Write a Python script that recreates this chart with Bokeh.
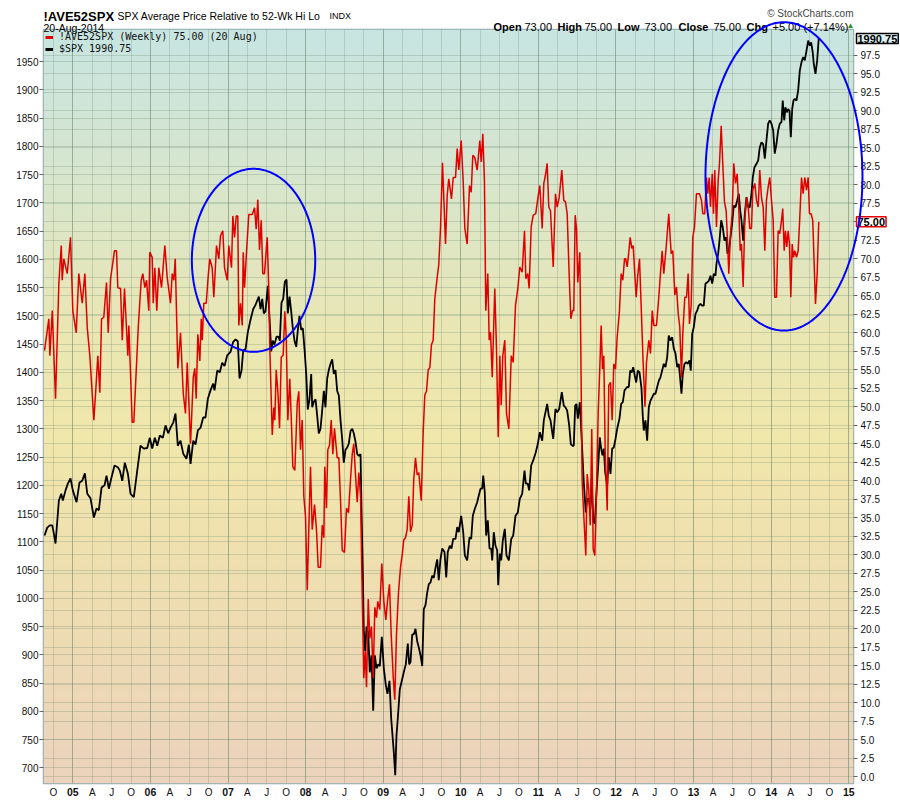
import numpy as np
from bokeh.plotting import figure
from bokeh.models import (Range1d, LinearAxis, FixedTicker, Grid, Label, Legend, LegendItem,
                          PolyAnnotation, CustomJSTickFormatter, NumeralTickFormatter, GridBox, Column)
from bokeh.embed import file_html
from bokeh.resources import INLINE

# ---------------- data (dates as decimal years) ----------------
ind_dates = [
    2004.635, 2004.691, 2004.704, 2004.735, 2004.777, 2004.820, 2004.851, 2004.863, 2004.884, 2004.928, 2004.970,
    2005.000, 2005.044, 2005.077, 2005.121, 2005.155, 2005.186, 2005.219, 2005.271, 2005.293, 2005.322, 2005.348,
    2005.370, 2005.399, 2005.434, 2005.456, 2005.486, 2005.537, 2005.563, 2005.580, 2005.615, 2005.637, 2005.666,
    2005.709, 2005.722, 2005.765, 2005.786, 2005.843, 2005.881, 2005.902, 2005.928, 2005.950, 2005.979, 2005.992,
    2006.023, 2006.036, 2006.057, 2006.082, 2006.108, 2006.143, 2006.186, 2006.216, 2006.259, 2006.281, 2006.302,
    2006.320, 2006.353, 2006.388, 2006.423, 2006.452, 2006.474, 2006.517, 2006.552, 2006.572, 2006.590, 2006.611,
    2006.637, 2006.655, 2006.668, 2006.688, 2006.719, 2006.745, 2006.765, 2006.796, 2006.817, 2006.852, 2006.881,
    2006.903, 2006.933, 2006.955, 2006.990,
    2007.010, 2007.045, 2007.062, 2007.084, 2007.106, 2007.126, 2007.139, 2007.161, 2007.183, 2007.196, 2007.213,
    2007.238, 2007.268, 2007.312, 2007.342, 2007.363, 2007.384, 2007.406, 2007.428, 2007.448, 2007.470, 2007.505,
    2007.526, 2007.539, 2007.570, 2007.590, 2007.603, 2007.621, 2007.642, 2007.664, 2007.686, 2007.711, 2007.732,
    2007.750, 2007.771, 2007.796, 2007.818, 2007.835, 2007.861, 2007.892, 2007.912, 2007.934, 2007.956, 2007.977,
    2007.999,
    2008.021, 2008.041, 2008.063, 2008.085, 2008.115, 2008.140, 2008.162, 2008.192, 2008.214, 2008.235, 2008.247,
    2008.269, 2008.286, 2008.308, 2008.330, 2008.351, 2008.372, 2008.407, 2008.428, 2008.450, 2008.472, 2008.501,
    2008.527, 2008.553, 2008.579, 2008.601, 2008.621, 2008.643, 2008.665, 2008.686, 2008.708, 2008.729, 2008.750,
    2008.768, 2008.785, 2008.807, 2008.827, 2008.849, 2008.871, 2008.892, 2008.914, 2008.930, 2008.956, 2008.982,
    2009.008, 2009.034, 2009.055, 2009.081, 2009.103, 2009.129, 2009.149, 2009.171, 2009.197, 2009.223, 2009.245,
    2009.265, 2009.287, 2009.309, 2009.330, 2009.352, 2009.374, 2009.394, 2009.416, 2009.438, 2009.459, 2009.490,
    2009.515, 2009.536, 2009.558, 2009.580, 2009.601, 2009.622, 2009.644, 2009.665, 2009.696, 2009.716, 2009.738,
    2009.764, 2009.803, 2009.825, 2009.845, 2009.880, 2009.902, 2009.932, 2009.954, 2009.974,
    2010.005, 2010.031, 2010.052, 2010.082, 2010.112, 2010.134, 2010.155, 2010.180, 2010.211, 2010.245, 2010.263,
    2010.284, 2010.305, 2010.322, 2010.348, 2010.366, 2010.383, 2010.405, 2010.438, 2010.460, 2010.482, 2010.503,
    2010.521, 2010.541, 2010.567, 2010.589, 2010.619, 2010.650, 2010.675, 2010.705, 2010.735, 2010.760, 2010.791,
    2010.821, 2010.838, 2010.863, 2010.881, 2010.907, 2010.933, 2010.966, 2010.992,
    2011.018, 2011.049, 2011.070, 2011.091, 2011.113, 2011.134, 2011.156, 2011.191, 2011.220, 2011.242, 2011.268,
    2011.302, 2011.327, 2011.349, 2011.371, 2011.397, 2011.418, 2011.439, 2011.456, 2011.474, 2011.491, 2011.508,
    2011.534, 2011.564, 2011.585, 2011.611, 2011.629, 2011.650, 2011.668, 2011.688, 2011.706, 2011.727, 2011.749,
    2011.771, 2011.791, 2011.809, 2011.826, 2011.843, 2011.861, 2011.887, 2011.907, 2011.929, 2011.951, 2011.972,
    2011.994,
    2012.015, 2012.045, 2012.067, 2012.088, 2012.110, 2012.126, 2012.144, 2012.165, 2012.183, 2012.204, 2012.222,
    2012.242, 2012.260, 2012.281, 2012.303, 2012.329, 2012.348, 2012.374, 2012.393, 2012.423, 2012.445, 2012.467,
    2012.487, 2012.522, 2012.552, 2012.573, 2012.595, 2012.616, 2012.647, 2012.680, 2012.711, 2012.732, 2012.758,
    2012.780, 2012.802, 2012.822, 2012.844, 2012.861, 2012.887, 2012.909, 2012.930, 2012.947, 2012.969, 2012.990,
    2013.012, 2013.037, 2013.076, 2013.102, 2013.119, 2013.144, 2013.166, 2013.183, 2013.201, 2013.218, 2013.240,
    2013.256, 2013.273, 2013.295, 2013.317, 2013.334, 2013.356, 2013.376, 2013.398, 2013.420, 2013.437, 2013.454,
    2013.476, 2013.497, 2013.518, 2013.540, 2013.562, 2013.582, 2013.601, 2013.617, 2013.639, 2013.660, 2013.682,
    2013.704, 2013.724, 2013.746, 2013.763, 2013.789, 2013.811, 2013.833, 2013.853, 2013.875, 2013.897, 2013.918,
    2013.939, 2013.961, 2013.982,
    2014.004, 2014.026, 2014.046, 2014.068, 2014.090, 2014.111, 2014.133, 2014.149, 2014.168, 2014.184, 2014.201,
    2014.219, 2014.236, 2014.253, 2014.271, 2014.287, 2014.304, 2014.326, 2014.348, 2014.369, 2014.391, 2014.412,
    2014.433, 2014.455, 2014.477, 2014.494, 2014.515, 2014.536, 2014.558, 2014.571, 2014.593, 2014.613,
]
ind_values = [
    57.6, 61.9, 56.9, 63.0, 51.1, 66.7, 71.8, 67.1, 70.0, 68.0, 72.9,
    63.0, 60.0, 68.0, 64.0, 68.0, 60.7, 56.9, 48.2, 51.8, 56.9, 51.9, 61.9, 62.1, 66.8, 60.0, 67.3, 71.1, 71.1,
    66.1, 66.0, 59.0, 66.0, 56.9, 61.0, 47.9, 47.9, 60.7, 67.1, 68.0, 66.1, 67.1, 63.0, 70.9,
    70.2, 64.0, 68.8, 63.0, 68.8, 66.1, 71.8, 67.5, 64.0, 68.0, 67.1, 70.0, 55.2, 60.0, 51.8, 49.1, 56.0, 45.0,
    54.0, 55.2, 51.1, 59.8, 56.2, 61.9, 59.0, 64.0, 64.0, 67.7, 70.0, 68.8, 64.8, 71.8, 70.0, 73.1, 73.8, 68.8, 67.1,
    71.8, 68.8, 75.8, 72.9, 75.8, 75.8, 61.0, 64.0, 61.0, 70.9, 66.1, 70.9, 76.0, 76.0, 76.9, 74.0, 78.0, 71.2,
    75.2, 68.0, 68.0, 72.9, 65.8, 57.8, 46.2, 49.9, 48.2, 55.0, 52.1, 47.1, 56.7, 57.0, 62.9, 59.5, 48.2, 53.8,
    47.6, 41.9, 41.4, 50.5, 52.1, 44.2, 48.2, 37.9, 35.1,
    25.2, 33.4, 41.9, 33.4, 36.8, 33.4, 28.3, 28.3, 34.0, 32.3, 41.9, 36.3, 44.2, 44.8, 48.2, 43.6, 47.1, 43.1,
    43.1, 37.3, 30.6, 30.3, 36.3, 35.7, 40.2, 43.6, 45.0, 40.8, 37.1, 41.1, 37.9, 24.9, 13.3, 16.9, 12.1, 24.0,
    18.7, 20.3, 13.3, 22.9, 21.5, 23.7, 22.6, 28.8,
    23.7, 21.2, 23.7, 26.0, 19.2, 13.5, 10.4, 19.2, 24.9, 28.3, 30.0, 32.0, 32.3, 33.4, 37.9, 33.1, 34.0, 40.2,
    43.1, 40.8, 41.1, 37.3, 46.5, 51.6, 52.1, 55.0, 55.3, 58.4, 59.0, 64.6, 67.5, 69.2, 74.0, 83.0, 72.0, 78.6,
    80.8, 78.1, 81.0, 81.0, 84.9, 82.0,
    86.0, 80.4, 74.1, 72.0, 79.9, 79.0, 84.0, 83.7, 82.0, 86.0, 83.1, 86.9, 80.4, 63.0, 68.0, 59.0, 60.1, 54.0,
    66.0, 57.8, 45.9, 56.9, 50.2, 56.9, 59.0, 49.1, 47.0, 56.9, 56.0, 63.7, 66.0, 68.9, 68.2, 73.8, 67.3, 68.0,
    66.0, 74.3, 75.9, 76.1, 78.1,
    79.9, 74.1, 80.2, 81.3, 82.9, 77.0, 76.5, 68.9, 78.8, 77.0, 78.3, 82.0, 77.9, 77.7, 76.1, 67.8, 61.9, 63.0,
    63.0, 75.9, 74.1, 66.8, 70.9, 40.0, 35.3, 29.9, 40.9, 38.5, 34.0, 47.0, 30.8, 29.9, 38.5, 49.3, 55.1, 61.0,
    55.1, 56.9, 43.9, 36.0, 52.9, 53.3, 48.2, 55.8, 55.1,
    59.4, 63.0, 68.0, 67.1, 70.0, 70.0, 68.9, 70.9, 72.9, 71.4, 71.8, 68.0, 64.8, 67.8, 70.0, 62.3, 56.5, 50.0,
    56.0, 59.0, 57.2, 63.0, 61.0, 61.0, 64.8, 68.0, 71.1, 68.0, 71.6, 76.1, 70.7, 71.1, 65.1, 66.2, 62.6, 60.8,
    54.0, 59.9, 64.8, 64.8, 68.0, 61.2, 63.7, 72.9,
    74.3, 78.8, 78.8, 77.9, 76.1, 76.1, 81.0, 78.8, 81.0, 77.0, 81.5, 76.1, 82.0, 74.3, 80.6, 82.9, 88.0, 82.9,
    77.7, 76.5, 72.5, 68.0, 73.4, 76.1, 82.9, 80.2, 81.5, 77.0, 71.1, 72.0, 66.2, 75.2, 78.3, 77.0, 74.1, 74.1,
    79.3, 80.2, 77.9, 77.0, 82.0, 78.3, 77.0, 71.1, 77.9, 79.7, 81.0,
    77.9, 75.2, 64.8, 64.8, 73.8, 73.4, 75.2, 76.8, 71.1, 73.8, 71.6, 73.8, 72.0, 64.8, 72.0, 70.2, 71.1, 70.2,
    71.1, 75.6, 81.0, 78.8, 81.0, 79.3, 81.0, 76.1, 76.1, 75.2, 68.0, 63.9, 68.0, 75.0,
]

spx_dates = [
    2004.635, 2004.670, 2004.704, 2004.735, 2004.755, 2004.777, 2004.820, 2004.851, 2004.871, 2004.906, 2004.936,
    2004.970,
    2005.000, 2005.048, 2005.086, 2005.121, 2005.155, 2005.186, 2005.228, 2005.271, 2005.305, 2005.335, 2005.370,
    2005.409, 2005.434, 2005.464, 2005.495, 2005.537, 2005.580, 2005.606, 2005.637, 2005.670, 2005.709, 2005.744,
    2005.786, 2005.830, 2005.872, 2005.915, 2005.959, 2005.992,
    2006.023, 2006.057, 2006.088, 2006.121, 2006.160, 2006.195, 2006.229, 2006.259, 2006.294, 2006.323, 2006.353,
    2006.388, 2006.423, 2006.465, 2006.495, 2006.517, 2006.552, 2006.581, 2006.611, 2006.646, 2006.680, 2006.710,
    2006.740, 2006.774, 2006.809, 2006.826, 2006.861, 2006.894, 2006.925, 2006.955, 2006.990,
    2007.032, 2007.067, 2007.097, 2007.126, 2007.148, 2007.174, 2007.196, 2007.226, 2007.255, 2007.290, 2007.325,
    2007.354, 2007.376, 2007.397, 2007.419, 2007.441, 2007.461, 2007.483, 2007.513, 2007.539, 2007.557, 2007.577,
    2007.599, 2007.625, 2007.647, 2007.668, 2007.689, 2007.711, 2007.732, 2007.754, 2007.771, 2007.793, 2007.814,
    2007.835, 2007.857, 2007.879, 2007.900, 2007.921, 2007.943, 2007.964, 2007.986,
    2008.008, 2008.028, 2008.050, 2008.072, 2008.085, 2008.106, 2008.128, 2008.150, 2008.170, 2008.192, 2008.214,
    2008.235, 2008.256, 2008.278, 2008.299, 2008.321, 2008.343, 2008.363, 2008.385, 2008.407, 2008.428, 2008.450,
    2008.472, 2008.492, 2008.514, 2008.536, 2008.557, 2008.579, 2008.601, 2008.621, 2008.643, 2008.665, 2008.686,
    2008.708, 2008.720, 2008.737, 2008.750, 2008.768, 2008.785, 2008.807, 2008.827, 2008.849, 2008.871, 2008.892,
    2008.914, 2008.936, 2008.956, 2008.982,
    2009.008, 2009.034, 2009.055, 2009.081, 2009.103, 2009.120, 2009.137, 2009.155, 2009.171, 2009.188, 2009.214,
    2009.240, 2009.265, 2009.291, 2009.317, 2009.335, 2009.352, 2009.374, 2009.394, 2009.416, 2009.438, 2009.459,
    2009.481, 2009.503, 2009.523, 2009.545, 2009.567, 2009.588, 2009.610, 2009.631, 2009.652, 2009.674, 2009.696,
    2009.716, 2009.738, 2009.760, 2009.790, 2009.812, 2009.832, 2009.858, 2009.880, 2009.902, 2009.932, 2009.954,
    2009.974,
    2010.005, 2010.031, 2010.052, 2010.082, 2010.112, 2010.134, 2010.155, 2010.180, 2010.211, 2010.232, 2010.254,
    2010.276, 2010.289, 2010.309, 2010.327, 2010.348, 2010.370, 2010.392, 2010.405, 2010.425, 2010.447, 2010.469,
    2010.482, 2010.503, 2010.521, 2010.541, 2010.567, 2010.589, 2010.619, 2010.650, 2010.675, 2010.705, 2010.735,
    2010.760, 2010.791, 2010.821, 2010.838, 2010.863, 2010.881, 2010.907, 2010.933, 2010.966, 2010.992,
    2011.018, 2011.049, 2011.070, 2011.091, 2011.113, 2011.134, 2011.156, 2011.191, 2011.220, 2011.242, 2011.268,
    2011.302, 2011.327, 2011.349, 2011.371, 2011.397, 2011.418, 2011.439, 2011.456, 2011.474, 2011.491, 2011.508,
    2011.534, 2011.564, 2011.585, 2011.611, 2011.629, 2011.650, 2011.668, 2011.688, 2011.706, 2011.727, 2011.749,
    2011.771, 2011.791, 2011.809, 2011.826, 2011.843, 2011.861, 2011.887, 2011.907, 2011.929, 2011.951, 2011.972,
    2011.994,
    2012.015, 2012.045, 2012.067, 2012.088, 2012.110, 2012.126, 2012.144, 2012.165, 2012.183, 2012.204, 2012.222,
    2012.242, 2012.260, 2012.281, 2012.303, 2012.329, 2012.345, 2012.358, 2012.380, 2012.402, 2012.423, 2012.445,
    2012.467, 2012.487, 2012.509, 2012.531, 2012.552, 2012.573, 2012.595, 2012.616, 2012.638, 2012.660, 2012.680,
    2012.702, 2012.724, 2012.745, 2012.767, 2012.789, 2012.809, 2012.822, 2012.844, 2012.861, 2012.883, 2012.905,
    2012.925, 2012.947, 2012.964, 2012.982,
    2013.003, 2013.024, 2013.046, 2013.067, 2013.089, 2013.111, 2013.131, 2013.153, 2013.175, 2013.196, 2013.218,
    2013.240, 2013.260, 2013.282, 2013.295, 2013.317, 2013.334, 2013.356, 2013.376, 2013.398, 2013.420, 2013.437,
    2013.454, 2013.476, 2013.497, 2013.518, 2013.540, 2013.562, 2013.582, 2013.601, 2013.617, 2013.639, 2013.660,
    2013.682, 2013.704, 2013.724, 2013.746, 2013.763, 2013.785, 2013.811, 2013.833, 2013.853, 2013.875, 2013.897,
    2013.918, 2013.939, 2013.961, 2013.982,
    2014.004, 2014.026, 2014.046, 2014.068, 2014.090, 2014.111, 2014.133, 2014.149, 2014.168, 2014.184, 2014.201,
    2014.219, 2014.236, 2014.253, 2014.271, 2014.287, 2014.304, 2014.326, 2014.348, 2014.369, 2014.391, 2014.412,
    2014.433, 2014.455, 2014.477, 2014.497, 2014.515, 2014.536, 2014.549, 2014.571, 2014.593, 2014.613,
]
spx_values = [
    1111, 1125, 1129, 1129, 1115, 1097, 1173, 1185, 1173, 1191, 1203, 1212,
    1191, 1170, 1205, 1208, 1221, 1185, 1177, 1143, 1159, 1156, 1196, 1200, 1217, 1194, 1212, 1235, 1232, 1226,
    1208, 1240, 1221, 1185, 1179, 1226, 1270, 1265, 1266, 1284,
    1265, 1284, 1270, 1288, 1284, 1306, 1292, 1302, 1311, 1327, 1270, 1279, 1256, 1247, 1272, 1238, 1279, 1272,
    1297, 1302, 1320, 1320, 1353, 1368, 1380, 1368, 1403, 1400, 1417, 1411, 1430,
    1436, 1454, 1458, 1455, 1389, 1403, 1439, 1441, 1471, 1493, 1512, 1519, 1527, 1534, 1512, 1530, 1504, 1508,
    1553, 1486, 1437, 1456, 1449, 1463, 1463, 1456, 1523, 1530, 1560, 1564, 1504, 1534, 1508, 1478, 1456, 1445,
    1475, 1500, 1475, 1478, 1441,
    1397, 1334, 1352, 1397, 1338, 1348, 1352, 1322, 1292, 1300, 1333, 1367, 1338, 1389, 1404, 1415, 1423, 1397,
    1404, 1367, 1359, 1315, 1281, 1240, 1263, 1267, 1274, 1296, 1300, 1292, 1277, 1255, 1252, 1255, 1159, 1047,
    943, 906, 950, 939, 869, 899, 801, 899, 876, 883, 880, 932,
    876, 846, 831, 854, 787, 757, 727, 687, 757, 787, 839, 854, 869, 883, 920, 883, 887, 936, 936, 946, 924, 913,
    899, 880, 981, 988, 1010, 1025, 1028, 1040, 1036, 1054, 1069, 1032, 1069, 1088, 1082, 1037, 1082, 1093, 1088,
    1105, 1105, 1126, 1117,
    1146, 1117, 1076, 1067, 1108, 1105, 1146, 1158, 1170, 1182, 1194, 1194, 1217, 1188, 1111, 1138, 1088, 1088,
    1067, 1117, 1093, 1085, 1023, 1079, 1067, 1102, 1123, 1076, 1067, 1105, 1111, 1146, 1152, 1176, 1185, 1226,
    1203, 1203, 1191, 1235, 1244, 1258, 1273,
    1294, 1279, 1315, 1329, 1344, 1323, 1315, 1282, 1335, 1329, 1335, 1365, 1341, 1338, 1332, 1306, 1273, 1270,
    1270, 1341, 1344, 1318, 1347, 1265, 1205, 1152, 1176, 1176, 1158, 1211, 1138, 1132, 1188, 1235, 1285, 1265,
    1253, 1265, 1223, 1200, 1250, 1220, 1265, 1267, 1282,
    1300, 1318, 1344, 1347, 1368, 1371, 1374, 1374, 1403, 1400, 1409, 1394, 1382, 1403, 1400, 1371, 1323, 1297,
    1315, 1279, 1338, 1350, 1356, 1362, 1362, 1374, 1385, 1391, 1403, 1415, 1409, 1427, 1465, 1456, 1462, 1442,
    1433, 1409, 1415, 1397, 1362, 1397, 1415, 1418, 1415, 1421, 1403, 1468,
    1480, 1503, 1509, 1518, 1521, 1518, 1518, 1557, 1559, 1562, 1571, 1557, 1574, 1571, 1592, 1610, 1633, 1669,
    1657, 1633, 1639, 1610, 1616, 1639, 1663, 1695, 1692, 1704, 1716, 1686, 1669, 1633, 1680, 1710, 1692, 1692,
    1716, 1745, 1763, 1769, 1775, 1798, 1807, 1804, 1778, 1810, 1840, 1846,
    1840, 1828, 1787, 1804, 1828, 1840, 1843, 1881, 1846, 1869, 1860, 1866, 1863, 1816, 1866, 1881, 1884, 1881,
    1899, 1934, 1949, 1958, 1952, 1969, 1987, 1978, 1984, 1966, 1946, 1928, 1952, 1990.75,
]

spx_ticks = [700, 750, 800, 850, 900, 950, 1000, 1050, 1100, 1150, 1200, 1250, 1300, 1350, 1400,
             1450, 1500, 1550, 1600, 1650, 1700, 1750, 1800, 1850, 1900, 1950]
ind_ticks = [i * 2.5 for i in range(40)]
quarter_ticks = [2004.75] + [y + q for y in range(2005, 2015) for q in (0.0, 0.25, 0.5, 0.75)] + [2015.0]
quarter_labels = [{0.0: "", 0.25: "A", 0.5: "J", 0.75: "O"}[round(t % 1, 2)] for t in quarter_ticks]
year_ticks = [float(y) for y in range(2005, 2016)]
year_labels = ["05", "06", "07", "08", "09", "10", "11", "12", "13", "14", "15"]

symbol = "!AVE52SPX"
description = "SPX Average Price Relative to 52-Wk Hi Lo"
exchange = "INDX"
as_of = "20-Aug-2014"
ohlc_keys = ["Open", "High", "Low", "Close", "Chg"]
ohlc_vals = ["73.00", "75.00", "73.00", "75.00", "+5.00 (+7.14%)"]

RED = "#e00000"
FONT = "Liberation Sans"

# plot area geometry (canvas 900 x 800)
X0, X1 = 2004.622, 2015.061
Y0, Y1 = 672.2, 2006.7
I0, I1 = -0.92, 101.0
BL, BR, BT, BB = 43, 47, 29, 17
FW, FH = 810, 754
W, H = BL + FW + BR, BT + FH + BB

p = figure(frame_width=FW, frame_height=FH, x_range=Range1d(X0, X1), y_range=Range1d(Y0, Y1),
           output_backend="svg", toolbar_location=None,
           min_border_left=BL, min_border_right=BR, min_border_top=BT, min_border_bottom=BB,
           background_fill_color="#efe6b0", border_fill_color="white",
           outline_line_color="#8fa9ad", outline_line_width=1.5)
p.extra_y_ranges = {"ind": Range1d(I0, I1)}

# gradient background of the plot area
n = 256
fr = np.linspace(0, 1, n)
stops = [0.0, 0.2, 0.45, 0.6, 0.8, 1.0]
rr = [236, 238, 241, 234, 216, 200]
gg = [211, 220, 231, 231, 230, 229]
bb = [189, 179, 171, 180, 205, 226]
img = np.empty((n, 1), dtype=np.uint32)
view = img.view(dtype=np.uint8).reshape((n, 1, 4))
view[:, 0, 0] = np.interp(fr, stops, rr).astype(np.uint8)
view[:, 0, 1] = np.interp(fr, stops, gg).astype(np.uint8)
view[:, 0, 2] = np.interp(fr, stops, bb).astype(np.uint8)
view[:, 0, 3] = 255
p.image_rgba(image=[img], x=X0, y=Y0, dw=X1 - X0, dh=Y1 - Y0, level="image")

# grids
GRID = "#6f8a70"
p.xgrid.ticker = FixedTicker(ticks=quarter_ticks)
p.xgrid.grid_line_color = GRID
p.xgrid.grid_line_alpha = 0.28
p.add_layout(Grid(dimension=0, ticker=FixedTicker(ticks=year_ticks), grid_line_color=GRID, grid_line_alpha=0.45))
p.ygrid.ticker = FixedTicker(ticks=spx_ticks)
p.ygrid.grid_line_color = GRID
p.ygrid.grid_line_alpha = 0.28
p.add_layout(Grid(dimension=1, ticker=FixedTicker(ticks=ind_ticks), y_range_name="ind",
                  grid_line_color=GRID, grid_line_alpha=0.28))

# axes
lax = p.yaxis[0]
lax.ticker = FixedTicker(ticks=spx_ticks)
lax.formatter = NumeralTickFormatter(format="0")
rax = LinearAxis(y_range_name="ind", ticker=FixedTicker(ticks=ind_ticks),
                 formatter=CustomJSTickFormatter(args=dict(lastval=ind_values[-1]), code="""
return Math.abs(tick - lastval) < 1e-9 ? "" : tick.toFixed(1);
"""))
p.add_layout(rax, "right")
for ax in (lax, rax):
    ax.axis_line_color = None
    ax.major_tick_out = 4
    ax.major_tick_in = 0
    ax.minor_tick_out = 0
    ax.minor_tick_in = 0
    ax.major_tick_line_color = "#666666"
    ax.major_label_text_font = FONT
    ax.major_label_text_font_size = "10px"
    ax.major_label_text_color = "#111111"
lax.major_label_standoff = 1
rax.major_label_standoff = 3

bax = p.xaxis[0]
bax.ticker = FixedTicker(ticks=quarter_ticks)
bax.formatter = CustomJSTickFormatter(args=dict(qticks=quarter_ticks, qlabels=quarter_labels), code="""
let k = -1;
for (let j = 0; j < qticks.length; j++) { if (Math.abs(qticks[j] - tick) < 1e-6) { k = j; break; } }
return k >= 0 ? qlabels[k] : "";
""")
bax.axis_line_color = None
bax.major_tick_out = 0
bax.major_tick_in = 0
bax.minor_tick_out = 0
bax.minor_tick_in = 0
bax.major_label_standoff = 3
bax.major_label_text_font = FONT
bax.major_label_text_font_size = "10px"
bax.major_label_text_color = "#111111"

# series
p.line(spx_dates, spx_values, line_color="black", line_width=1.8)
p.line(ind_dates, ind_values, line_color=RED, line_width=1.5, y_range_name="ind")

# legend (swatch renderers sit outside the visible x range, only their legend glyphs show)
lg1 = p.line([X0 - 2.0, X0 - 1.9], [1500, 1500], line_color=RED, line_width=3)
lg2 = p.line([X0 - 2.0, X0 - 1.9], [1500, 1500], line_color="black", line_width=3)
legend = Legend(items=[
    LegendItem(label=f"{symbol} (Weekly) {ind_values[-1]:.2f} (20 Aug)", renderers=[lg1]),
    LegendItem(label=f"$SPX {spx_values[-1]:.2f}", renderers=[lg2]),
], location="top_left", margin=2, padding=0, spacing=1, background_fill_alpha=0, border_line_alpha=0,
    label_text_font="DejaVu Sans Mono", label_text_font_size="10px", label_text_color="#111111",
    label_height=10, glyph_height=10, glyph_width=8, label_standoff=6)
p.add_layout(legend)

# ---------- transparent overlay sharing the same data coordinates over the whole canvas ----------
sx = (X1 - X0) / FW
sy = (Y1 - Y0) / FH
si = (I1 - I0) / FH
o = figure(width=W, height=H, min_border=0, x_axis_location=None, y_axis_location=None,
           x_range=Range1d(X0 - BL * sx, X1 + BR * sx), y_range=Range1d(Y0 - BB * sy, Y1 + BT * sy),
           output_backend="svg", toolbar_location=None, outline_line_color=None,
           background_fill_alpha=0, border_fill_alpha=0)
o.extra_y_ranges = {"ind": Range1d(I0 - BB * si, I1 + BT * si)}
o.grid.visible = False


def hl(x, cy, text, size="11px", bold=False, color="black", align="left"):
    o.add_layout(Label(x=x, y=H - cy, x_units="screen", y_units="screen", text=text, text_align=align,
                       text_baseline="alphabetic", text_font=FONT, text_font_size=size,
                       text_font_style="bold" if bold else "normal", text_color=color))


# header rows
hl(43, 16, symbol, size="13px", bold=True)
hl(117, 15, description, size="10.5px")
hl(329, 15, exchange, size="9px")
hl(853, 13, "\u00a9 StockCharts.com", size="10px", color="#444444", align="right")
hl(43, 27, as_of, size="10.5px")
for k, v, xk, xv in zip(ohlc_keys, ohlc_vals, [493, 557, 617, 678, 746], [524, 584, 644, 713, 772]):
    hl(xk, 26, k, size="11px", bold=True)
    hl(xv, 26, v, size="11px")
hl(846, 25, "\u25b2", size="8px", color="#2e8b2e")

# bold year labels under the axis
for t, lab in zip(year_ticks, year_labels):
    o.add_layout(Label(x=t, y=H - 791, y_units="screen", text=lab, text_align="center", text_baseline="middle",
                       text_font=FONT, text_font_size="10.5px", text_font_style="bold", text_color="#111111"))

# last-value tags on the right
o.add_layout(Label(x=X1, y=spx_values[-1], x_offset=3, text=f"{spx_values[-1]:.2f}", text_baseline="middle",
                   text_font=FONT, text_font_size="11px", text_font_style="bold", text_color="black",
                   background_fill_color="#dff3f3", border_line_color="black", border_line_width=1.5, padding=1))
o.add_layout(Label(x=X1, y=ind_values[-1], y_range_name="ind", x_offset=3, text=f"{ind_values[-1]:.2f}",
                   text_baseline="middle", text_font=FONT, text_font_size="11px", text_font_style="bold",
                   text_color="black", background_fill_color="white", border_line_color=RED,
                   border_line_width=1.5, padding=1))

# hand-drawn ellipses (annotations)
t = np.linspace(0, 2 * np.pi, 241)
for cx, cy, ax_, by_ in [(2007.329, 1598.2, 0.795, 161.9), (2014.165, 1746.7, 1.0116, 272.9)]:
    o.add_layout(PolyAnnotation(xs=list(cx + ax_ * np.cos(t)), ys=list(cy + by_ * np.sin(t)),
                                fill_alpha=0, line_color="#0000ff", line_alpha=1.0, line_width=2))

# overlay wrapped in a Column so that its frame is not aligned with the main plot's frame
page = GridBox(children=[(p, 0, 0), (Column(children=[o]), 0, 0)])
open("out.html", "w").write(file_html(page, INLINE))
